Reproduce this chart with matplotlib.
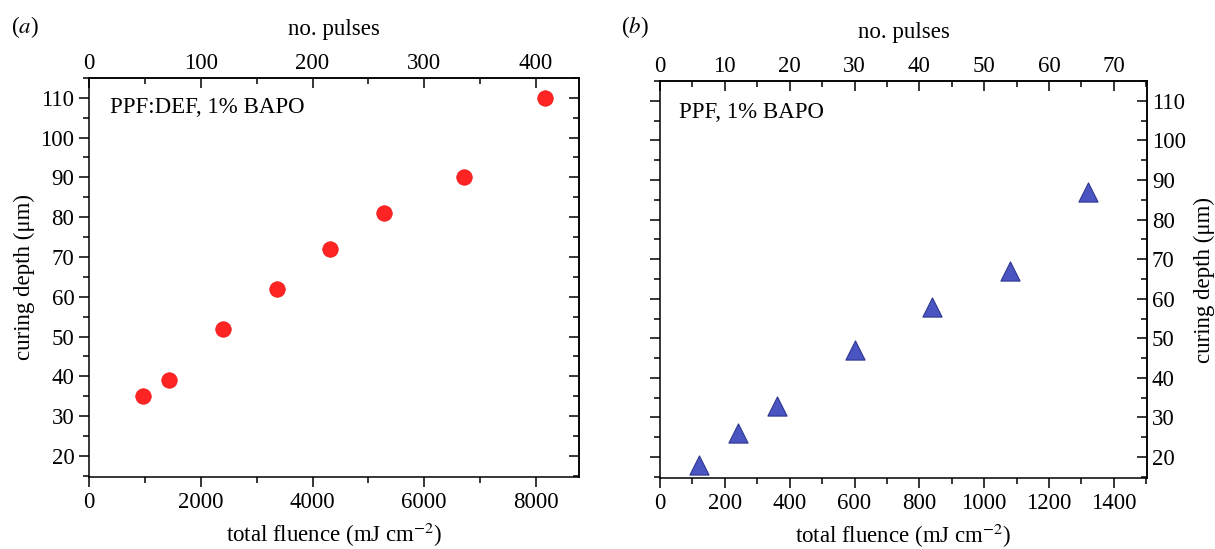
import numpy as np
import matplotlib.pyplot as plt
from matplotlib.ticker import MultipleLocator

plt.rcParams['font.family'] = ['Liberation Serif', 'DejaVu Serif']
plt.rcParams['mathtext.fontset'] = 'stix'
plt.rcParams['axes.linewidth'] = 1.1

# panel (a): PPF:DEF, 1% BAPO
fluence_a = [960, 1440, 2400, 3360, 4320, 5280, 6720, 8160]
depth_a = [35, 39, 52, 62, 72, 81, 90, 110]
# panel (b): PPF, 1% BAPO
fluence_b = [120, 240, 360, 600, 840, 1080, 1320]
depth_b = [18, 26, 33, 47, 58, 67, 87]

pulse_energy = 20.0  # mJ cm^-2 per pulse
fs = 16.5

fig = plt.figure(figsize=(12.15, 5.49), dpi=100)
axa = fig.add_axes([0.0733, 0.1311, 0.4033, 0.727])
axb = fig.add_axes([0.5432, 0.1293, 0.4008, 0.723])


def style(ax, xmax, xmaj, xmin_, pmaj, pmin, ylabel_side):
    ax.set_ylim(14.7, 115)
    ax.set_xlim(0, xmax)
    ax.xaxis.set_major_locator(MultipleLocator(xmaj))
    ax.xaxis.set_minor_locator(MultipleLocator(xmin_))
    ax.yaxis.set_major_locator(MultipleLocator(10))
    ax.yaxis.set_minor_locator(MultipleLocator(5))
    ax.tick_params(which='both', direction='out', labelsize=fs, width=1.1,
                   top=False, right=False)
    ax.tick_params(which='major', length=7)
    ax.tick_params(which='minor', length=4.5)
    ax.set_xlabel('total fluence (mJ cm$^{-2}$)', fontsize=fs, labelpad=6)

    top = ax.secondary_xaxis('top', functions=(lambda f: f / pulse_energy,
                                               lambda p: p * pulse_energy))
    top.xaxis.set_major_locator(MultipleLocator(pmaj))
    top.xaxis.set_minor_locator(MultipleLocator(pmin))
    top.tick_params(which='both', direction='in', labelsize=fs, width=1.1, pad=3)
    top.tick_params(which='major', length=7)
    top.tick_params(which='minor', length=4.5)
    top.set_xlabel('no. pulses', fontsize=fs, labelpad=13)

    rt = ax.secondary_yaxis('right')
    rt.yaxis.set_major_locator(MultipleLocator(10))
    rt.yaxis.set_minor_locator(MultipleLocator(5))
    rt.tick_params(which='both', direction='in', labelsize=fs, width=1.1)
    rt.tick_params(which='major', length=7)
    rt.tick_params(which='minor', length=4.5)
    if ylabel_side == 'left':
        rt.tick_params(labelright=False)
        ax.set_ylabel('curing depth (μm)', fontsize=fs, labelpad=4)
    else:
        ax.tick_params(axis='y', labelleft=False)
        rt.set_ylabel('curing depth (μm)', fontsize=fs, labelpad=6)


axa.scatter(fluence_a, depth_a, s=125, color='#ff2424', edgecolors='#f01818',
            linewidths=0.5, zorder=3, clip_on=False)
style(axa, 8772, 2000, 1000, 100, 50, 'left')
axa.text(0.043, 0.927, 'PPF:DEF, 1% BAPO', transform=axa.transAxes,
         fontsize=fs, va='center', ha='left')

axb.scatter(fluence_b, depth_b, s=190, marker='^', color='#4a55c2',
            edgecolors='#2e3690', linewidths=0.8, zorder=3, clip_on=False)
style(axb, 1502, 200, 100, 10, 5, 'right')
axb.text(0.04, 0.92, 'PPF, 1% BAPO', transform=axb.transAxes,
         fontsize=fs, va='center', ha='left')

fig.text(0.009, 0.951, '($\\mathit{a}$)', fontsize=fs, va='center', ha='left')
fig.text(0.511, 0.951, '($\\mathit{b}$)', fontsize=fs, va='center', ha='left')

fig.savefig('out.png', dpi=100)
